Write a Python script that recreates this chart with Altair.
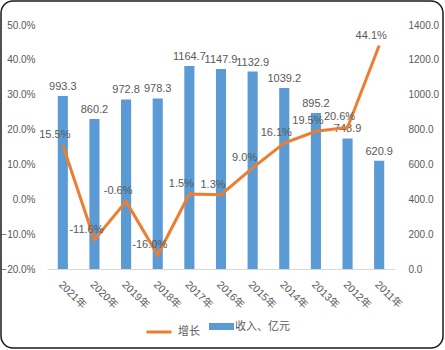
import altair as alt
import pandas as pd

years = ["2021年", "2020年", "2019年", "2018年", "2017年", "2016年",
         "2015年", "2014年", "2013年", "2012年", "2011年"]
revenue = [993.3, 860.2, 972.8, 978.3, 1164.7, 1147.9, 1132.9, 1039.2, 895.2, 748.9, 620.9]
growth = [15.5, -11.6, -0.6, -16.0, 1.5, 1.3, 9.0, 16.1, 19.5, 20.6, 44.1]
rev_name = "收入、亿元"
growth_name = "增长"
pct_ticks = [-0.2, -0.1, 0.0, 0.1, 0.2, 0.3, 0.4, 0.5]
rev_ticks = [0, 200, 400, 600, 800, 1000, 1200, 1400]

df = pd.DataFrame({
    "year": years,
    "revenue": revenue,
    "growth": [g / 100 for g in growth],
    "rev_s": [rev_name] * len(years),
    "gr_s": [growth_name] * len(years),
    "rev_label": [f"{v:.1f}" for v in revenue],
    "gr_label": [f"{g:.1f}%" for g in growth],
})

font = "Liberation Sans, Noto Sans CJK SC"
gray = "#595959"
blue = "#5B9BD5"
orange = "#ED7D31"

x_enc = alt.X(
    "year:N", sort=years,
    scale=alt.Scale(paddingInner=0.68, paddingOuter=0.34),
    axis=alt.Axis(title=None, labelAngle=45, labelAlign="left", labelBaseline="top",
                  labelFont=font, labelFontSize=10.5, labelColor=gray, ticks=False,
                  domainColor="#D9D9D9", labelPadding=10, labelOffset=1),
)

base = alt.Chart(df)

bars = base.mark_bar(color=blue).encode(
    color=alt.Color("rev_s:N", scale=alt.Scale(domain=[rev_name], range=[blue]),
                    legend=alt.Legend(title=None, orient="none", legendX=166, legendY=293,
                                      symbolType="M-1.5,-0.42L1.5,-0.42L1.5,0.42L-1.5,0.42Z",
                                      symbolSize=278, symbolStrokeWidth=0,
                                      labelFont=font, labelFontSize=11, labelColor=gray,
                                      labelOffset=5))
)
bar_text = base.mark_text(font=font, fontSize=11, color=gray, dy=-9).encode(text="rev_label:N")

bar_layer = alt.layer(bars, bar_text).encode(
    x=x_enc,
    y=alt.Y("revenue:Q", scale=alt.Scale(domain=[0, 1400], nice=False),
            axis=alt.Axis(title=None, orient="right", format=".1f", values=rev_ticks,
                          labelFont=font, labelFontSize=10, labelColor=gray,
                          ticks=False, domain=False, grid=False, labelPadding=13)),
)

line = base.mark_line(strokeWidth=3, color=orange).encode(
    color=alt.Color("gr_s:N", scale=alt.Scale(domain=[growth_name], range=[orange]),
                    legend=alt.Legend(title=None, orient="none", legendX=98, legendY=293,
                                      symbolType="stroke", symbolSize=625,
                                      symbolStrokeWidth=3,
                                      labelFont=font, labelFontSize=11, labelColor=gray,
                                      labelOffset=5))
)
line_text = base.mark_text(font=font, fontSize=11, color=gray, dy=-10, dx=-8).encode(
    text="gr_label:N")

line_layer = alt.layer(line, line_text).encode(
    x=x_enc,
    y=alt.Y("growth:Q", scale=alt.Scale(domain=[-0.2, 0.5], nice=False),
            axis=alt.Axis(title=None, orient="left", format=".1%", values=pct_ticks,
                          labelFont=font, labelFontSize=10, labelColor=gray,
                          ticks=False, domain=False, grid=False, labelPadding=12)),
)

frame = alt.Chart(pd.DataFrame({"a": [0]})).mark_rect(
    fill="transparent", stroke="#1a1a1a", strokeWidth=1.5, cornerRadius=12, clip=False
).encode(x=alt.value(-46), x2=alt.value(396), y=alt.value(-24), y2=alt.value(323))

chart = alt.layer(bar_layer, line_layer, frame).resolve_scale(
    y="independent", color="independent"
).properties(
    width=348, height=244,
    padding={"left": 47, "top": 25, "right": 50, "bottom": 81},
    autosize=alt.AutoSizeParams(type="none"),
    background="white",
).configure_view(stroke=None)

chart.save("out.html", embed_options={"renderer": "svg", "actions": False})
